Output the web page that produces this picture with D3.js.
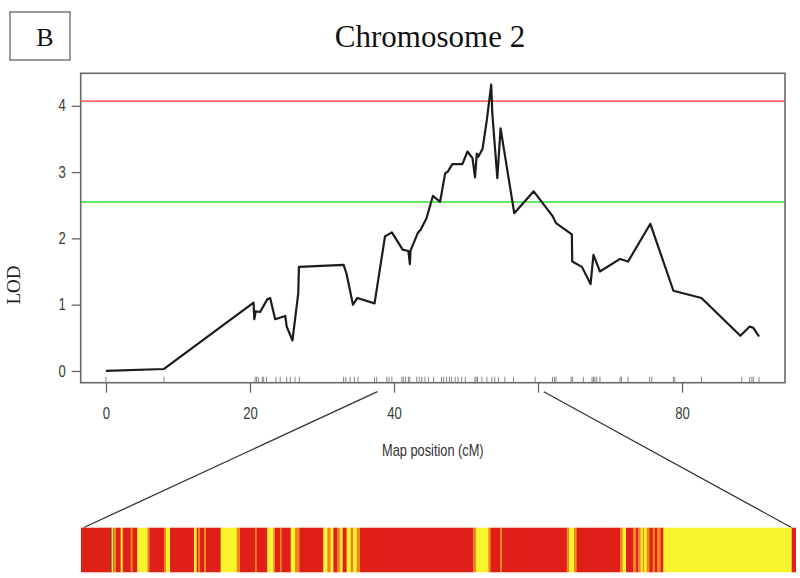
<!DOCTYPE html>
<html><head><meta charset="utf-8">
<script src="https://cdn.jsdelivr.net/npm/d3@7"></script>
<style>body{margin:0;background:#fff}svg{display:block}</style>
</head><body>
<svg id="c" width="800" height="578"></svg>
<script>
// ---- data ----
const positions = [0, 8.06, 20.5, 20.6, 20.8, 21.4, 22.4, 22.8, 23.5, 24.9, 25.1, 25.9, 26.7, 26.8, 33.0, 33.4, 34.3, 34.9, 37.3, 38.75, 39.7, 41.2, 42.0, 42.2, 42.3, 43.3, 43.7, 44.5, 45.4, 46.4, 47.1, 47.5, 48.1, 49.5, 50.2, 50.9, 51.25, 51.5, 51.7, 52.3, 52.9, 53.5, 53.65, 54.35, 54.8, 56.7, 59.4, 62.0, 62.5, 64.7, 64.75, 66.1, 67.3, 67.7, 68.6, 71.4, 72.5, 75.6, 78.8, 82.7, 88.1, 89.4, 89.9, 90.7];
const lod = [0.00, 0.03, 1.03, 0.78, 0.90, 0.89, 1.08, 1.10, 0.78, 0.83, 0.67, 0.46, 1.17, 1.57, 1.60, 1.47, 1.00, 1.10, 1.02, 2.03, 2.09, 1.83, 1.81, 1.61, 1.82, 2.08, 2.13, 2.30, 2.64, 2.55, 2.98, 3.01, 3.12, 3.12, 3.31, 3.21, 2.92, 3.28, 3.23, 3.35, 3.79, 4.32, 3.89, 2.91, 3.66, 2.38, 2.71, 2.34, 2.23, 2.06, 1.65, 1.57, 1.31, 1.75, 1.50, 1.69, 1.65, 2.22, 1.21, 1.10, 0.53, 0.67, 0.65, 0.52];
const markers = [0, 8.06, 20.7, 20.9, 21.15, 21.7, 21.9, 22.3, 23.6, 24.2, 25.1, 25.6, 26.25, 26.85, 33.0, 33.3, 33.9, 34.5, 35.0, 37.3, 37.6, 39.0, 39.3, 39.7, 41.1, 41.3, 41.6, 42.0, 42.2, 43.15, 43.5, 43.85, 44.3, 44.8, 45.5, 46.6, 46.9, 47.3, 47.7, 48.0, 48.5, 48.9, 49.4, 49.9, 51.25, 51.4, 51.6, 52.2, 52.9, 53.6, 54.0, 54.5, 55.4, 56.6, 59.6, 62.0, 62.3, 62.5, 64.6, 64.8, 66.3, 67.5, 67.7, 67.9, 68.15, 68.6, 71.4, 71.6, 72.5, 75.5, 75.8, 78.8, 79.0, 82.7, 88.3, 89.4, 89.7, 89.9, 90.7];
const thresholdHigh = 4.07;
const thresholdLow = 2.55;
const xTicks = [0, 20, 40, 60, 80];
const xTickLabels = ["0", "20", "40", "", "80"];
const yTicks = [0, 1, 2, 3, 4];
const zoomInterval = [37.7, 60.8];
// genotype strip: start (% of zoomed interval) and genotype class
const stripStarts = [0, 3.96, 4.15, 4.29, 4.52, 4.66, 4.90, 5.55, 5.83, 6.95, 7.23, 7.88, 9.28, 9.56, 11.61, 11.89, 12.45, 15.81, 16.18, 16.42, 16.65, 17.21, 17.49, 19.54, 21.78, 22.25, 24.35, 24.58, 26.07, 26.91, 27.14, 27.84, 28.08, 29.34, 29.94, 30.55, 33.91, 34.47, 34.93, 35.31, 35.87, 36.24, 36.61, 37.17, 37.73, 38.10, 38.57, 39.04, 54.89, 55.27, 56.99, 57.32, 58.63, 58.91, 67.96, 68.33, 68.98, 69.35, 75.42, 75.79, 76.26, 77.28, 77.66, 77.98, 78.31, 78.59, 78.77, 79.15, 79.52, 79.99, 80.31, 80.64, 81.11, 81.48, 99.44];
const stripGeno = ["R","D","R","Y","R","O","R","Y","R","O","R","Y","O","R","O","Y","R","Y","R","O","R","O","R","Y","O","R","O","R","Y","O","R","O","R","Y","O","R","Y","O","Y","R","O","Y","R","Y","O","Y","O","R","O","Y","O","R","O","R","O","Y","O","R","O","Y","R","O","R","O","Y","O","Y","O","R","O","R","O","R","Y","R"];
const title = "Chromosome 2";
const panel = "B";

// ---- drawing ----
const svg = d3.select("#c");
const L = 80.7, R = 785, T = 73.3, B = 382.7;
const x = d3.scaleLinear().domain([-3.51, 94.3]).range([L, R]);
const y = d3.scaleLinear().domain([-0.177, 4.49]).range([B, T]);
const stripX = d3.scaleLinear().domain([0, 100]).range([81, 795.7]);
const genoColor = d3.scaleOrdinal().domain(["R","Y","O","D"]).range(["#e11f19", "#f9f52c", "#f0861f", "#9c2b12"]);

function squeeze(sel, s) {
  sel.each(function () {
    const t = d3.select(this);
    const xx = +t.attr("x") || 0;
    t.attr("x", xx / s).attr("transform", `scale(${s},1)`);
  });
}

// panel label
svg.append("rect").attr("x", 10).attr("y", 12).attr("width", 60).attr("height", 48)
  .attr("fill", "none").attr("stroke", "#555").attr("stroke-width", 1.2);
svg.append("text").attr("x", 45).attr("y", 46).attr("text-anchor", "middle")
  .attr("font-family", "Liberation Serif").attr("font-size", 26).attr("fill", "#111").text(panel);
svg.append("text").attr("x", 430).attr("y", 47).attr("text-anchor", "middle")
  .attr("font-family", "Liberation Serif").attr("font-size", 31).attr("fill", "#111").text(title);

// thresholds
svg.append("line").attr("x1", L).attr("x2", R).attr("y1", y(thresholdHigh)).attr("y2", y(thresholdHigh))
  .attr("stroke", "#ff2b2b").attr("stroke-width", 1.3);
svg.append("line").attr("x1", L).attr("x2", R).attr("y1", y(thresholdLow)).attr("y2", y(thresholdLow))
  .attr("stroke", "#62e862").attr("stroke-width", 2);

// curve
const pts = positions.map((p, i) => [p, lod[i]]);
svg.append("path").datum(pts)
  .attr("d", d3.line().x(d => x(d[0])).y(d => y(d[1])))
  .attr("fill", "none").attr("stroke", "#1c1c1c").attr("stroke-width", 2.2)
  .attr("stroke-linejoin", "round");

// rug
svg.append("g").selectAll("line").data(markers).join("line")
  .attr("x1", d => x(d)).attr("x2", d => x(d))
  .attr("y1", B).attr("y2", B - 6)
  .attr("stroke", "#888").attr("stroke-width", 1);

// box
svg.append("rect").attr("x", L).attr("y", T).attr("width", R - L).attr("height", B - T)
  .attr("fill", "none").attr("stroke", "#6a6a6a").attr("stroke-width", 1.6);

// axes
const gy = svg.append("g").attr("transform", `translate(${L},0)`)
  .call(d3.axisLeft(y).tickValues(yTicks).tickSize(9).tickPadding(6).tickFormat(d3.format("d")));
gy.select(".domain").remove();
gy.selectAll(".tick line").attr("stroke", "#666").attr("stroke-width", 1.3);
gy.selectAll(".tick text").attr("font-family", "Liberation Sans").attr("font-size", 16).attr("fill", "#3a3a3a");
squeeze(gy.selectAll(".tick text"), 0.82);

const gx = svg.append("g").attr("transform", `translate(0,${B})`)
  .call(d3.axisBottom(x).tickValues(xTicks).tickSize(10).tickPadding(15).tickFormat((d, i) => xTickLabels[i]));
gx.select(".domain").remove();
gx.selectAll(".tick line").attr("stroke", "#666").attr("stroke-width", 1.3);
gx.selectAll(".tick text").attr("font-family", "Liberation Sans").attr("font-size", 16).attr("fill", "#3a3a3a");
squeeze(gx.selectAll(".tick text"), 0.82);

// axis titles
const xl = svg.append("text").attr("x", (L + R) / 2).attr("y", 456).attr("text-anchor", "middle")
  .attr("font-family", "Liberation Sans").attr("font-size", 16).attr("fill", "#333").text("Map position (cM)");
squeeze(xl, 0.8);
svg.append("text").attr("transform", "translate(20,285) rotate(-90)").attr("text-anchor", "middle")
  .attr("font-family", "Liberation Serif").attr("font-size", 19).attr("fill", "#222").text("LOD");

// zoom connector lines
svg.append("line").attr("x1", x(zoomInterval[0])).attr("y1", 391.7).attr("x2", stripX(0.4)).attr("y2", 527.5)
  .attr("stroke", "#333").attr("stroke-width", 1.3);
svg.append("line").attr("x1", x(zoomInterval[1])).attr("y1", 391.7).attr("x2", stripX(99.4)).attr("y2", 527.5)
  .attr("stroke", "#333").attr("stroke-width", 1.3);

// genotype strip
svg.append("g").selectAll("rect").data(stripStarts).join("rect")
  .attr("x", d => stripX(d))
  .attr("width", (d, i) => stripX(i + 1 < stripStarts.length ? stripStarts[i + 1] : 100) - stripX(d) + 0.3)
  .attr("y", 527.7).attr("height", 44.6)
  .attr("fill", (d, i) => genoColor(stripGeno[i]));
</script>
</body></html>
